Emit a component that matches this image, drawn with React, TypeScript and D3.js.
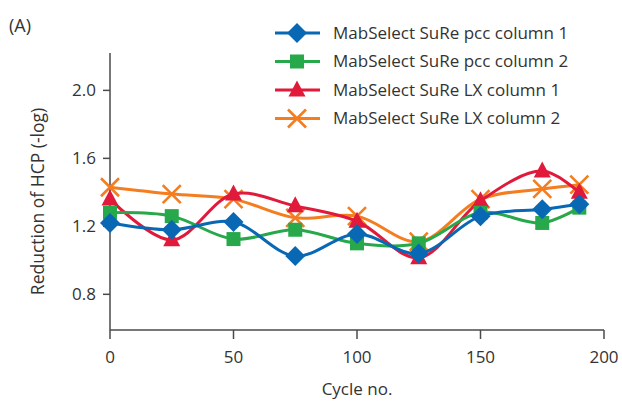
import { useMemo } from "react"
import * as d3 from "d3"

const cycles = [0, 25, 50, 75, 100, 125, 150, 175, 190]
const pccColumn1 = [1.22, 1.18, 1.225, 1.025, 1.155, 1.04, 1.26, 1.3, 1.33]
const pccColumn2 = [1.28, 1.26, 1.125, 1.18, 1.1, 1.1, 1.28, 1.22, 1.31]
const lxColumn1 = [1.36, 1.12, 1.39, 1.32, 1.23, 1.015, 1.35, 1.525, 1.4]
const lxColumn2 = [1.43, 1.39, 1.36, 1.25, 1.26, 1.11, 1.36, 1.42, 1.445]

const xTicks = [0, 50, 100, 150, 200]
const yTicks = [0.8, 1.2, 1.6, 2.0]

type Marker = "diamond" | "square" | "triangle" | "cross"

const series: { name: string; values: number[]; color: string; marker: Marker }[] = [
  { name: "MabSelect SuRe pcc column 1", values: pccColumn1, color: "#0868b4", marker: "diamond" },
  { name: "MabSelect SuRe pcc column 2", values: pccColumn2, color: "#27a84a", marker: "square" },
  { name: "MabSelect SuRe LX column 1", values: lxColumn1, color: "#e1193b", marker: "triangle" },
  { name: "MabSelect SuRe LX column 2", values: lxColumn2, color: "#f47d20", marker: "cross" },
]

const FONT = "'Open Sans', 'DejaVu Sans', sans-serif"
const AXIS = "#4a4a4a"
const TEXT = "#333"

function MarkerShape({ type, x, y, color }: { type: Marker; x: number; y: number; color: string }) {
  if (type === "diamond") {
    const r = 10
    return <path d={`M${x},${y - r}L${x + r},${y}L${x},${y + r}L${x - r},${y}Z`} fill={color} />
  }
  if (type === "square") {
    const s = 14
    return <rect x={x - s / 2} y={y - s / 2} width={s} height={s} fill={color} />
  }
  if (type === "triangle") {
    const w = 17
    const h = 16
    return <path d={`M${x},${y - h * 0.6}L${x + w / 2},${y + h * 0.4}L${x - w / 2},${y + h * 0.4}Z`} fill={color} />
  }
  const r = 9
  return (
    <path
      d={`M${x - r},${y - r}L${x + r},${y + r}M${x - r},${y + r}L${x + r},${y - r}`}
      stroke={color}
      strokeWidth={2.6}
      fill="none"
    />
  )
}

export default function App() {
  const width = 622
  const height = 401

  const xScale = useMemo(() => d3.scaleLinear().domain([0, 200]).range([110, 604]), [])
  const yScale = useMemo(() => d3.scaleLinear().domain([0.59, 2.22]).range([330, 53]), [])

  const line = d3
    .line<number>()
    .x((_, i) => xScale(cycles[i]))
    .y((d) => yScale(d))
    .curve(d3.curveCatmullRom.alpha(0.5))

  // legend order top to bottom, but blue ends up drawn last (on top)
  const drawOrder = [...series].reverse()
  const [x0, x1] = xScale.range()
  const [y0, y1] = yScale.range()

  return (
    <svg
      width={width}
      height={height}
      style={{ position: "absolute", left: 0, top: 0, background: "#fff" }}
      fontFamily={FONT}
    >
      <text x={9} y={32} fontSize={18} fill={TEXT}>
        (A)
      </text>

      {/* axes */}
      <line x1={x0} x2={x0} y1={y1} y2={y0} stroke={AXIS} strokeWidth={1.5} />
      <line x1={x0} x2={x1} y1={y0} y2={y0} stroke={AXIS} strokeWidth={1.5} />
      {yTicks.map((t) => (
        <g key={t}>
          <line x1={x0 - 7} x2={x0} y1={yScale(t)} y2={yScale(t)} stroke={AXIS} strokeWidth={1.5} />
          <text x={x0 - 14} y={yScale(t)} dy="0.35em" textAnchor="end" fontSize={17} fill={TEXT}>
            {t.toFixed(1)}
          </text>
        </g>
      ))}
      {xTicks.map((t) => (
        <g key={t}>
          <line x1={xScale(t)} x2={xScale(t)} y1={y0} y2={y0 + 9} stroke={AXIS} strokeWidth={1.5} />
          <text x={xScale(t)} y={y0 + 33} textAnchor="middle" fontSize={17} fill={TEXT}>
            {t}
          </text>
        </g>
      ))}
      <text x={(x0 + x1) / 2} y={395} textAnchor="middle" fontSize={17} fill={TEXT}>
        Cycle no.
      </text>
      <text
        transform={`translate(44,${(y0 + y1) / 2 + 10}) rotate(-90)`}
        textAnchor="middle"
        fontSize={17.5}
        fill={TEXT}
      >
        Reduction of HCP (-log)
      </text>

      {/* series */}
      {drawOrder.map((s) => (
        <g key={s.name}>
          <path d={line(s.values) ?? ""} fill="none" stroke={s.color} strokeWidth={3} />
          {s.values.map((v, i) => (
            <MarkerShape key={i} type={s.marker} x={xScale(cycles[i])} y={yScale(v)} color={s.color} />
          ))}
        </g>
      ))}

      {/* legend */}
      {series.map((s, i) => {
        const ly = 33 + i * 28.5
        return (
          <g key={s.name}>
            <line x1={275} x2={320} y1={ly} y2={ly} stroke={s.color} strokeWidth={3} />
            <MarkerShape type={s.marker} x={297} y={ly} color={s.color} />
            <text x={333} y={ly} dy="0.35em" fontSize={17} fill={TEXT}>
              {s.name}
            </text>
          </g>
        )
      })}
    </svg>
  )
}
